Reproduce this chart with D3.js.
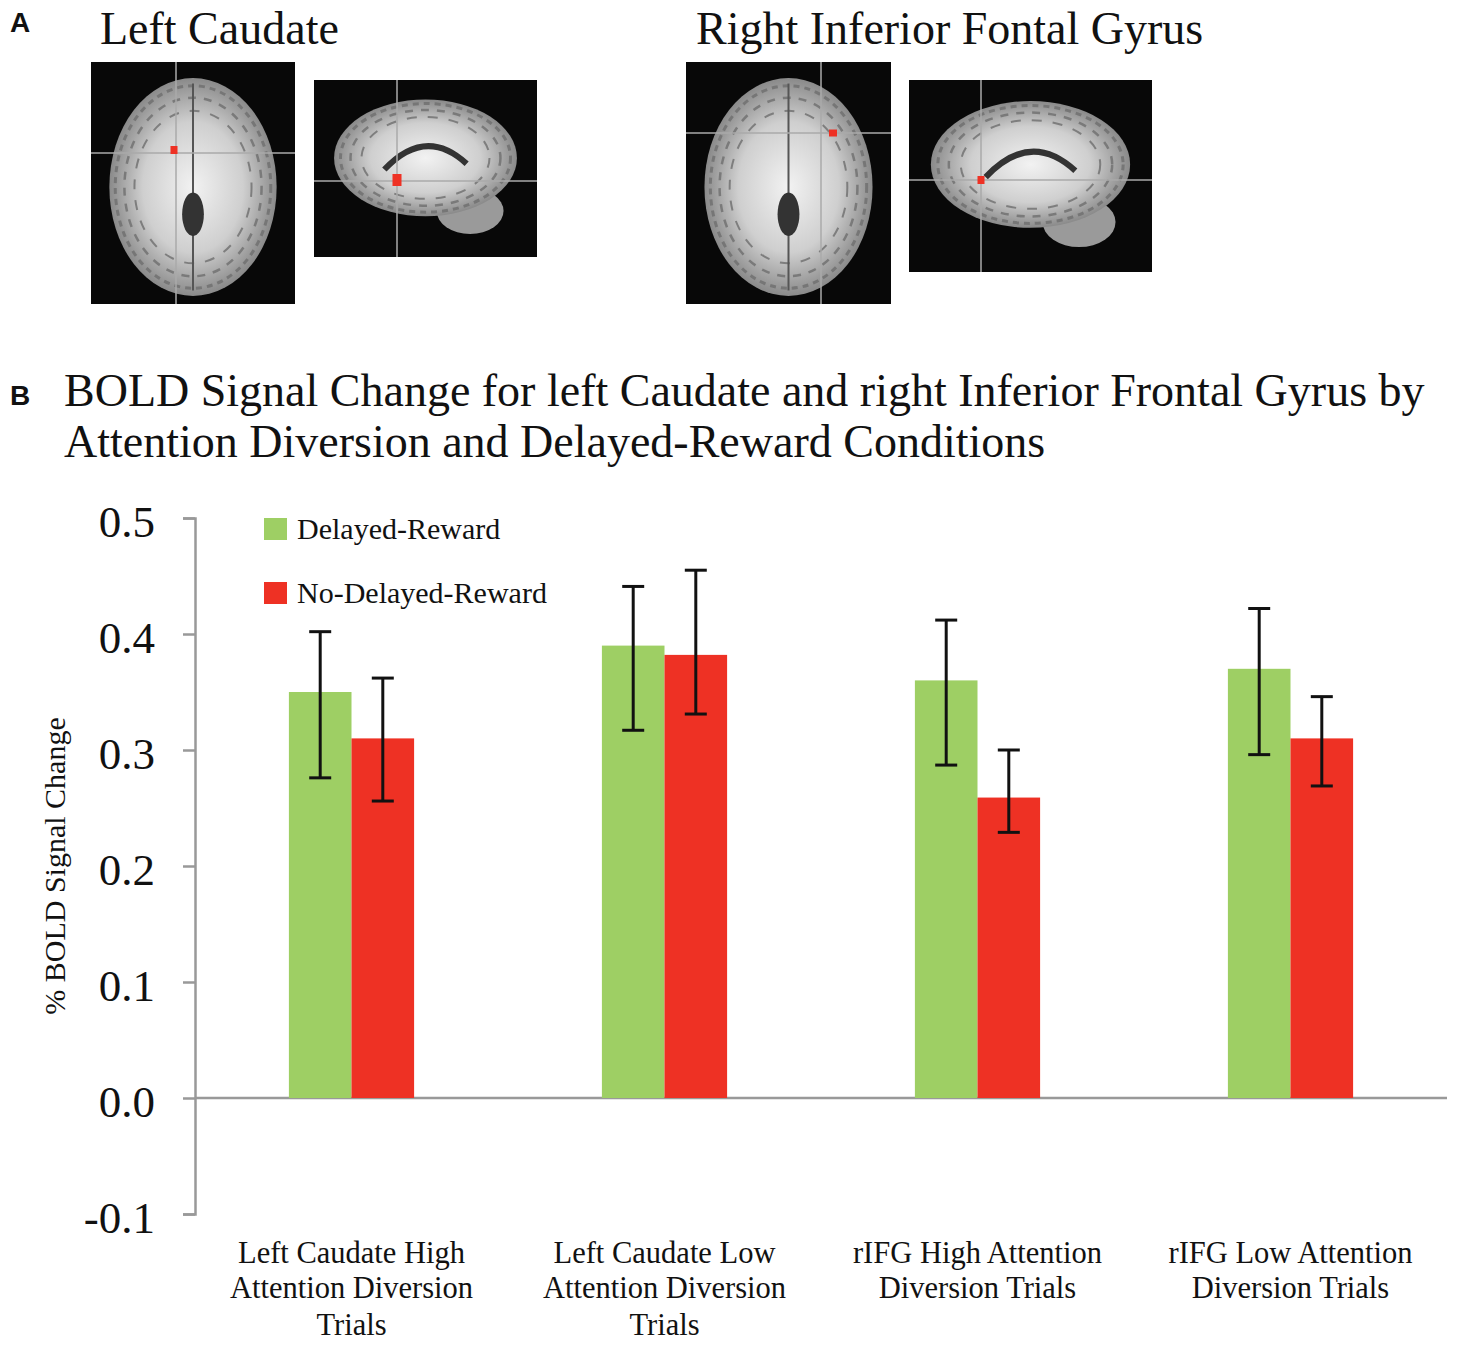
<!DOCTYPE html>
<html lang="en">
<head>
<meta charset="utf-8">
<title>BOLD Signal Change</title>
<script src="https://cdn.jsdelivr.net/npm/d3@7"></script>
<style>
  body { margin: 0; background: #fff; }
  text { font-family: "Liberation Serif", "Times New Roman", serif; fill: #111; }
  .panel { font-family: "Liberation Sans", Arial, sans-serif; font-weight: bold; }
</style>
</head>
<body>
<script>
// data
var categories = [
  ["Left Caudate High", "Attention Diversion", "Trials"],
  ["Left Caudate Low", "Attention Diversion", "Trials"],
  ["rIFG High Attention", "Diversion Trials"],
  ["rIFG Low Attention", "Diversion Trials"]
];
var series = ["Delayed-Reward", "No-Delayed-Reward"];
var delayedValues = [0.35, 0.39, 0.36, 0.37];
var delayedUpper = [0.402, 0.441, 0.412, 0.422];
var delayedLower = [0.276, 0.317, 0.287, 0.296];
var noDelayedValues = [0.31, 0.382, 0.259, 0.31];
var noDelayedUpper = [0.362, 0.455, 0.300, 0.346];
var noDelayedLower = [0.256, 0.331, 0.229, 0.269];
var yTicks = [-0.1, 0.0, 0.1, 0.2, 0.3, 0.4, 0.5];

var colors = ["#9ecf64", "#ee3124"];

var w = 1460, h = 1349;
var svg = d3.select("body").append("svg")
    .attr("width", w)
    .attr("height", h);

// ---------- panel A: brain slices (schematic) ----------
svg.append("text").attr("class", "panel")
    .attr("x", 10).attr("y", 32).attr("font-size", 28).text("A");
svg.append("text").attr("x", 100).attr("y", 44).attr("font-size", 46).text("Left Caudate");
svg.append("text").attr("x", 696).attr("y", 44).attr("font-size", 46).text("Right Inferior Fontal Gyrus");

var defs = svg.append("defs");
var grad = defs.append("radialGradient").attr("id", "brain");
grad.append("stop").attr("offset", "0%").attr("stop-color", "#f2f2f2");
grad.append("stop").attr("offset", "60%").attr("stop-color", "#cfcfcf");
grad.append("stop").attr("offset", "100%").attr("stop-color", "#8a8a8a");

var slices = [
  {x: 91, y: 62, w: 204, h: 242, type: "axial", cx: 176, cy: 153, mx: 174, my: 150, mw: 7, mh: 8},
  {x: 314, y: 80, w: 223, h: 177, type: "sag", cx: 397, cy: 181, mx: 397, my: 180, mw: 9, mh: 12},
  {x: 686, y: 62, w: 205, h: 242, type: "axial", cx: 821, cy: 133, mx: 833, my: 133, mw: 8, mh: 7},
  {x: 909, y: 80, w: 243, h: 192, type: "sag", cx: 981, cy: 180, mx: 981, my: 180, mw: 7, mh: 8}
];

slices.forEach(function(s) {
  var g = svg.append("g");
  g.append("rect").attr("x", s.x).attr("y", s.y).attr("width", s.w).attr("height", s.h).attr("fill", "#080808");
  var bx, by, rx, ry;
  if (s.type === "axial") {
    bx = s.x + s.w / 2; by = s.y + s.h / 2 + 4; rx = s.w * 0.41; ry = s.h * 0.45;
  } else {
    bx = s.x + s.w * 0.5; by = s.y + s.h * 0.44; rx = s.w * 0.41; ry = s.h * 0.33;
    g.append("ellipse").attr("cx", s.x + s.w * 0.7).attr("cy", s.y + s.h * 0.74)
        .attr("rx", s.w * 0.15).attr("ry", s.h * 0.13).attr("fill", "#9a9a9a");
  }
  g.append("ellipse").attr("cx", bx).attr("cy", by).attr("rx", rx).attr("ry", ry).attr("fill", "url(#brain)");
  // folds of the cortex, as dashed rings
  [0.93, 0.82, 0.7].forEach(function(k, i) {
    g.append("ellipse").attr("cx", bx).attr("cy", by).attr("rx", rx * k).attr("ry", ry * k)
        .attr("fill", "none").attr("stroke", "#6e6e6e").attr("stroke-width", 3 - i * 0.5)
        .attr("stroke-dasharray", (6 + i * 2) + " " + (5 + i * 3)).attr("opacity", 0.8);
  });
  if (s.type === "axial") {
    g.append("line").attr("x1", bx).attr("x2", bx).attr("y1", by - ry * 0.95).attr("y2", by + ry * 0.95)
        .attr("stroke", "#555").attr("stroke-width", 2);
    g.append("ellipse").attr("cx", bx).attr("cy", by + ry * 0.25).attr("rx", rx * 0.13).attr("ry", ry * 0.2)
        .attr("fill", "#333");
  } else {
    g.append("path")
        .attr("d", "M" + (bx - rx * 0.45) + "," + (by + ry * 0.2) + " Q" + bx + "," + (by - ry * 0.55) + " " + (bx + rx * 0.45) + "," + (by + ry * 0.1))
        .attr("fill", "none").attr("stroke", "#333").attr("stroke-width", 6);
  }
  g.append("line").attr("x1", s.cx).attr("x2", s.cx).attr("y1", s.y).attr("y2", s.y + s.h)
      .attr("stroke", "#aaa").attr("stroke-width", 1.5);
  g.append("line").attr("x1", s.x).attr("x2", s.x + s.w).attr("y1", s.cy).attr("y2", s.cy)
      .attr("stroke", "#aaa").attr("stroke-width", 1.5);
  g.append("rect").attr("x", s.mx - s.mw / 2).attr("y", s.my - s.mh / 2)
      .attr("width", s.mw).attr("height", s.mh).attr("fill", "#ee3124");
});

// ---------- panel B: bar chart ----------
svg.append("text").attr("class", "panel")
    .attr("x", 10).attr("y", 405).attr("font-size", 28).text("B");
svg.append("text").attr("x", 64).attr("y", 406).attr("font-size", 46)
    .text("BOLD Signal Change for left Caudate and right Inferior Frontal Gyrus by");
svg.append("text").attr("x", 64).attr("y", 457).attr("font-size", 46)
    .text("Attention Diversion and Delayed-Reward Conditions");

var left = 195, right = 1447;

var yScale = d3.scaleLinear()
    .domain([-0.1, 0.5])
    .range([1214, 518]);

var x0 = d3.scaleBand()
    .domain(d3.range(categories.length))
    .range([left, right])
    .paddingInner(0.6)
    .paddingOuter(0.3);

var x1 = d3.scaleBand()
    .domain(d3.range(series.length))
    .range([0, x0.bandwidth()]);

// y axis
var yAxis = d3.axisLeft(yScale)
    .tickValues(yTicks)
    .tickSize(12)
    .tickPadding(28)
    .tickFormat(function(d) { return d3.format(".1f")(d).replace("\u2212", "-"); });

var ay = svg.append("g").attr("transform", "translate(" + left + ",0)").call(yAxis);
ay.select(".domain").attr("stroke", "#999").attr("stroke-width", 2.5);
ay.selectAll(".tick line").attr("stroke", "#999").attr("stroke-width", 2.5);
ay.selectAll(".tick text")
    .attr("font-family", "Liberation Serif, serif")
    .attr("font-size", 45)
    .attr("fill", "#111")
    .attr("dy", "0.4em");

// zero line
svg.append("line")
    .attr("x1", left).attr("x2", right)
    .attr("y1", yScale(0)).attr("y2", yScale(0))
    .attr("stroke", "#999").attr("stroke-width", 2.5);

// y label
svg.append("text")
    .attr("transform", "translate(65," + ((yScale(0.5) + yScale(-0.1)) / 2) + ") rotate(-90)")
    .attr("text-anchor", "middle")
    .attr("font-size", 30)
    .text("% BOLD Signal Change");

var rows = categories.map(function(c, i) {
  return [
    {cat: i, s: 0, v: delayedValues[i], hi: delayedUpper[i], lo: delayedLower[i]},
    {cat: i, s: 1, v: noDelayedValues[i], hi: noDelayedUpper[i], lo: noDelayedLower[i]}
  ];
});

var groups = svg.selectAll("g.cat")
    .data(rows)
    .enter().append("g")
    .attr("class", "cat")
    .attr("transform", function(d, i) { return "translate(" + x0(i) + ",0)"; });

groups.selectAll("rect")
    .data(function(d) { return d; })
    .enter().append("rect")
    .attr("x", function(d) { return x1(d.s); })
    .attr("y", function(d) { return yScale(d.v); })
    .attr("width", x1.bandwidth())
    .attr("height", function(d) { return yScale(0) - yScale(d.v); })
    .attr("fill", function(d) { return colors[d.s]; });

var cap = 11;
groups.selectAll("g.err")
    .data(function(d) { return d; })
    .enter().append("g")
    .attr("class", "err")
    .each(function(d) {
      var g = d3.select(this);
      var cx = x1(d.s) + x1.bandwidth() / 2;
      var y1 = yScale(d.hi), y2 = yScale(d.lo);
      g.append("line").attr("x1", cx).attr("x2", cx).attr("y1", y1).attr("y2", y2);
      g.append("line").attr("x1", cx - cap).attr("x2", cx + cap).attr("y1", y1).attr("y2", y1);
      g.append("line").attr("x1", cx - cap).attr("x2", cx + cap).attr("y1", y2).attr("y2", y2);
      g.selectAll("line").attr("stroke", "#111").attr("stroke-width", 3);
    });

// category labels
svg.selectAll("text.cat")
    .data(categories)
    .enter().append("text")
    .attr("class", "cat")
    .attr("text-anchor", "middle")
    .attr("font-size", 30.5)
    .attr("x", function(d, i) { return x0(i) + x0.bandwidth() / 2; })
    .attr("y", 1263)
    .each(function(d) {
      var t = d3.select(this);
      d.forEach(function(line, j) {
        t.append("tspan")
          .attr("x", t.attr("x"))
          .attr("dy", j === 0 ? 0 : (j === 1 ? 35 : 37))
          .text(line);
      });
    });

// legend
var legend = svg.selectAll("g.legend")
    .data(series)
    .enter().append("g")
    .attr("class", "legend")
    .attr("transform", function(d, i) { return "translate(264," + (518 + i * 64) + ")"; });
legend.append("rect").attr("width", 23).attr("height", 22)
    .attr("fill", function(d, i) { return colors[i]; });
legend.append("text").attr("x", 33).attr("y", 21).attr("font-size", 30)
    .text(function(d) { return d; });
</script>
</body>
</html>
